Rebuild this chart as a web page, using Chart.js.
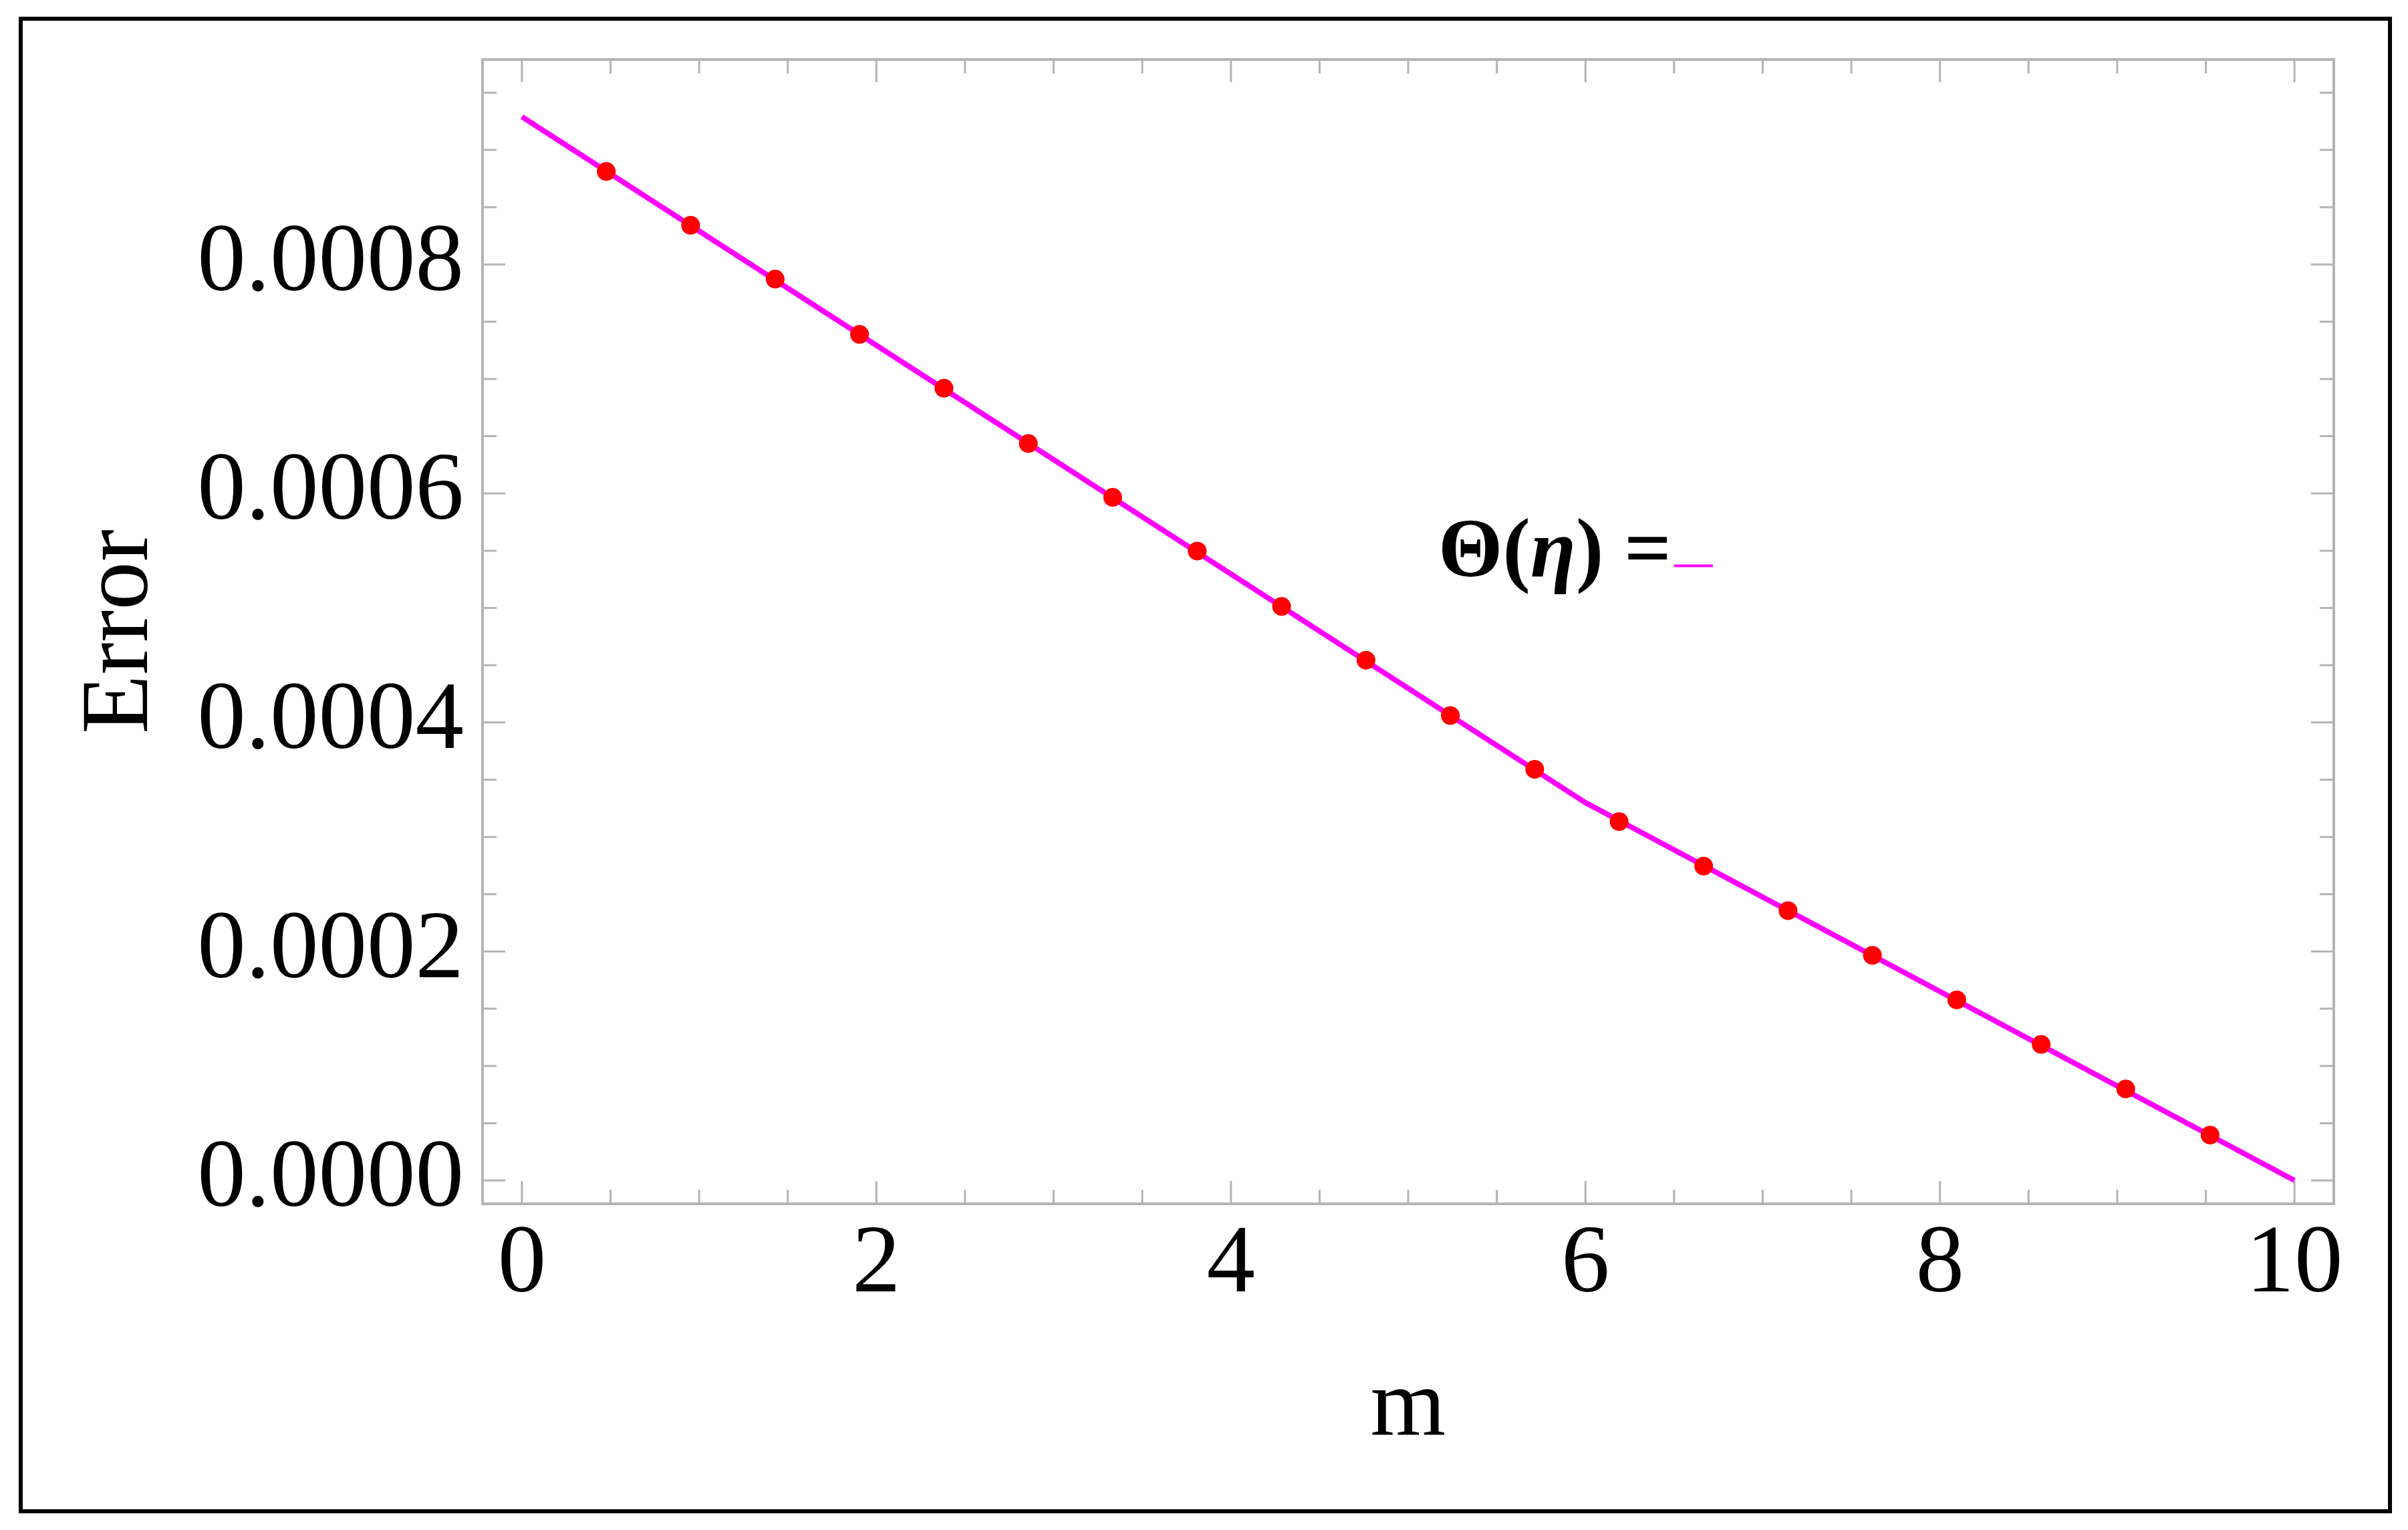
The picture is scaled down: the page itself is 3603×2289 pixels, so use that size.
<!DOCTYPE html>
<html>
<head>
<meta charset="utf-8">
<script src="https://cdn.jsdelivr.net/npm/chart.js@4.4.1/dist/chart.umd.min.js"></script>
<style>
  html, body { margin: 0; padding: 0; background: #ffffff; }
  #wrap { width: 3603px; height: 2289px; position: relative; }
</style>
</head>
<body>
<div id="wrap"><canvas id="c" width="3603" height="2289"></canvas></div>
<script>
// ---- data ----
const lineM = [0, 6.0, 10];
const lineErr = [0.000929, 0.000330, 0.0];

const dotM = [0.476, 0.952, 1.429, 1.905, 2.381, 2.857, 3.333, 3.810, 4.286, 4.762,
              5.238, 5.714, 6.190, 6.667, 7.143, 7.619, 8.095, 8.571, 9.048, 9.524];
const dotErr = [0.0008812, 0.0008342, 0.0007872, 0.0007389, 0.0006919, 0.0006436, 0.0005966,
                0.0005497, 0.0005013, 0.0004544, 0.0004060, 0.0003591, 0.0003134, 0.0002745,
                0.0002356, 0.0001966, 0.0001577, 0.0001188, 0.0000799, 0.0000396];

const xTicks = [0, 2, 4, 6, 8, 10];
const xMinorTicks = [0.5, 1, 1.5, 2.5, 3, 3.5, 4.5, 5, 5.5, 6.5, 7, 7.5, 8.5, 9, 9.5];
const yTicks = [0, 0.0002, 0.0004, 0.0006, 0.0008];
const yMinorTicks = [0.00005, 0.0001, 0.00015, 0.00025, 0.0003, 0.00035, 0.00045, 0.0005,
                     0.00055, 0.00065, 0.0007, 0.00075, 0.00085, 0.0009, 0.00095];
const xTitle = 'm';
const yTitle = 'Error';
const legendParts = [['Θ(', 'bold'], ['η', 'bold italic'], [') =', 'bold']];
// legend anchor in data coordinates (m, Error)
const legendAnchor = [5.17, 0.000528];

const SERIF = '"Liberation Serif", "Times New Roman", serif';
const FRAME = '#b4b4b4';

const framePlugin = {
  id: 'mmaFrame',
  beforeDatasetsDraw(chart) {
    const ctx = chart.ctx, a = chart.chartArea;
    const xs = chart.scales.x, ys = chart.scales.y;
    ctx.save();
    ctx.strokeStyle = FRAME;
    ctx.lineCap = 'butt';
    const tick = (px, len, vertical) => {
      ctx.beginPath();
      if (vertical) {
        ctx.moveTo(px, a.bottom); ctx.lineTo(px, a.bottom - len);
        ctx.moveTo(px, a.top); ctx.lineTo(px, a.top + len);
      } else {
        ctx.moveTo(a.left, px); ctx.lineTo(a.left + len, px);
        ctx.moveTo(a.right, px); ctx.lineTo(a.right - len, px);
      }
      ctx.stroke();
    };
    ctx.lineWidth = 3;
    xTicks.forEach(v => tick(xs.getPixelForValue(v), 34, true));
    xMinorTicks.forEach(v => tick(xs.getPixelForValue(v), 21, true));
    yTicks.forEach(v => tick(ys.getPixelForValue(v), 34, false));
    yMinorTicks.forEach(v => tick(ys.getPixelForValue(v), 21, false));
    ctx.lineWidth = 4;
    ctx.strokeRect(a.left, a.top, a.right - a.left, a.bottom - a.top);
    ctx.restore();
  },
  afterDraw(chart) {
    const ctx = chart.ctx;
    const xs = chart.scales.x, ys = chart.scales.y;
    ctx.save();
    ctx.strokeStyle = '#000';
    ctx.lineWidth = 6;
    ctx.strokeRect(31, 28, 3545, 2233);
    let x = xs.getPixelForValue(legendAnchor[0]);
    const y = ys.getPixelForValue(legendAnchor[1]);
    ctx.fillStyle = '#000';
    ctx.textBaseline = 'alphabetic';
    ctx.textAlign = 'left';
    legendParts.forEach(([t, w]) => {
      ctx.font = w + ' 124px ' + SERIF;
      ctx.fillText(t, x, y);
      x += ctx.measureText(t).width;
    });
    ctx.strokeStyle = '#ff00ff';
    ctx.lineWidth = 4;
    ctx.beginPath();
    ctx.moveTo(x + 4, y - 15);
    ctx.lineTo(x + 62, y - 15);
    ctx.stroke();
    ctx.restore();
  }
};

new Chart(document.getElementById('c'), {
  type: 'scatter',
  data: {
    datasets: [
      {
        label: 'dots',
        data: dotM.map((m, i) => ({ x: m, y: dotErr[i] })),
        showLine: false,
        pointRadius: 14,
        pointBackgroundColor: '#ff0000',
        pointBorderWidth: 0,
        order: 0
      },
      {
        label: 'line',
        data: lineM.map((m, i) => ({ x: m, y: lineErr[i] })),
        showLine: true,
        borderColor: '#ff00ff',
        borderWidth: 8,
        pointRadius: 0,
        tension: 0,
        order: 1
      }
    ]
  },
  options: {
    responsive: false,
    animation: false,
    devicePixelRatio: 1,
    layout: { padding: { left: 0, top: 89, right: 111, bottom: 0 } },
    plugins: { legend: { display: false }, tooltip: { enabled: false } },
    scales: {
      x: {
        type: 'linear', position: 'bottom',
        min: -0.222, max: 10.222,
        grid: { display: false, drawTicks: false },
        border: { display: false },
        afterBuildTicks: s => { s.ticks = xTicks.map(v => ({ value: v })); },
        afterFit: s => { s.height = 488; s.paddingLeft = 0; s.paddingRight = 0; },
        ticks: {
          font: { family: SERIF, size: 145 }, color: '#000', padding: 6,
          maxRotation: 0, autoSkip: false,
          callback: v => String(v)
        },
        title: {
          display: true, text: xTitle, color: '#000',
          font: { family: SERIF, size: 145 },
          padding: { top: 0, bottom: 94 }
        }
      },
      y: {
        type: 'linear', position: 'left',
        min: -0.0000204, max: 0.000979,
        grid: { display: false, drawTicks: false },
        border: { display: false },
        afterBuildTicks: s => { s.ticks = yTicks.map(v => ({ value: v })); },
        afterFit: s => { s.width = 722; s.paddingTop = 0; s.paddingBottom = 0; },
        ticks: {
          font: { family: SERIF, size: 145 }, color: '#000', padding: 28,
          autoSkip: false,
          callback: v => Number(v).toFixed(4)
        },
        title: {
          display: true, text: yTitle, color: '#000',
          font: { family: SERIF, size: 145 },
          padding: { top: 95, bottom: 0 }
        }
      }
    }
  },
  plugins: [framePlugin]
});
</script>
</body>
</html>
